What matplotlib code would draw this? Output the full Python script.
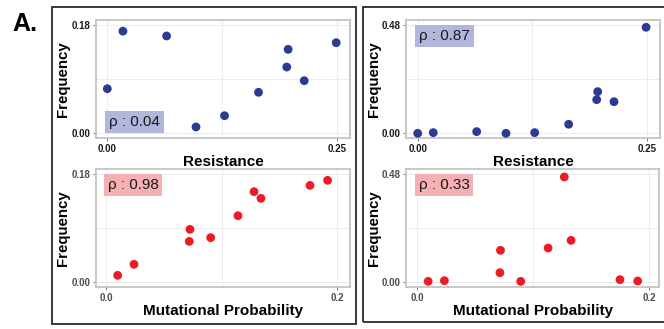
import matplotlib
matplotlib.use('Agg')
import matplotlib.pyplot as plt
from matplotlib.patches import Rectangle

plt.rcParams['font.family'] = ['Liberation Sans', 'DejaVu Sans']

# ---------------- data ----------------
res_x_a = [0.000, 0.017, 0.0645, 0.0965, 0.1275, 0.1645, 0.1967, 0.1952, 0.2142, 0.249]
res_freq_a = [0.0735, 0.169, 0.161, 0.010, 0.0287, 0.0675, 0.1388, 0.1095, 0.0868, 0.1498]

res_x_b = [0.000, 0.017, 0.0644, 0.0964, 0.1277, 0.1648, 0.1965, 0.1954, 0.2143, 0.2493]
res_freq_b = [0.000, 0.003, 0.0074, 0.000, 0.003, 0.040, 0.1846, 0.149, 0.140, 0.4697]

mut_x_a = [0.0101, 0.0242, 0.0720, 0.0726, 0.0905, 0.1141, 0.1280, 0.1340, 0.1764, 0.1916]
mut_freq_a = [0.0106, 0.029, 0.0674, 0.0875, 0.0736, 0.1103, 0.1505, 0.1393, 0.161, 0.1694]

mut_x_b = [0.0094, 0.0234, 0.0718, 0.0713, 0.0893, 0.1129, 0.1269, 0.1327, 0.1749, 0.1902]
mut_freq_b = [0.0015, 0.0045, 0.1397, 0.040, 0.0015, 0.150, 0.4666, 0.184, 0.0089, 0.003]

rho_labels = ["\u03c1 : 0.04", "\u03c1 : 0.87", "\u03c1 : 0.98", "\u03c1 : 0.33"]
x_tick_labels_res = ["0.00", "0.25"]
x_tick_labels_mut = ["0.0", "0.2"]

BLUE = '#2b3a93'
RED = '#ec1c26'
LAV = '#b2b5dc'
PINK = '#f5b0b3'

W, H = 664, 329
fig = plt.figure(figsize=(W / 100, H / 100), dpi=100)


def px_axes(l, t, r, b):
    return fig.add_axes([l / W, 1 - b / H, (r - l) / W, (b - t) / H])


panels = [
    dict(box=(96, 20, 350, 138), x=res_x_a, y=res_freq_a, xlim=(-0.0123, 0.2640), ylim=(-0.0083, 0.1875),
         xt=[0, 0.25], xtl=x_tick_labels_res, yt=[0, 0.18], ytl=["0.00", "0.18"], xl="Resistance",
         c=BLUE, bc=LAV, lab=rho_labels[0], pos='bottom', tc='#1a1a1a'),
    dict(box=(406.5, 20, 660, 138), x=res_x_b, y=res_freq_b, xlim=(-0.0122, 0.2645), ylim=(-0.0208, 0.502),
         xt=[0, 0.25], xtl=x_tick_labels_res, yt=[0, 0.48], ytl=["0.00", "0.48"], xl="Resistance",
         c=BLUE, bc=LAV, lab=rho_labels[1], pos='top', tc='#1a1a1a'),
    dict(box=(96.3, 169, 350, 287.3), x=mut_x_a, y=mut_freq_a, xlim=(-0.0084, 0.211), ylim=(-0.0094, 0.1884),
         xt=[0, 0.2], xtl=x_tick_labels_mut, yt=[0, 0.18], ytl=["0.00", "0.18"], xl="Mutational Probability",
         c=RED, bc=PINK, lab=rho_labels[2], pos='top', tc='#4d4d4d'),
    dict(box=(406.5, 169, 659, 287.3), x=mut_x_b, y=mut_freq_b, xlim=(-0.0093, 0.2086), ylim=(-0.025, 0.502),
         xt=[0, 0.2], xtl=x_tick_labels_mut, yt=[0, 0.48], ytl=["0.00", "0.48"], xl="Mutational Probability",
         c=RED, bc=PINK, lab=rho_labels[3], pos='top', tc='#4d4d4d'),
]

for p in panels:
    ax = px_axes(*p['box'])
    ax.set_xlim(*p['xlim'])
    ax.set_ylim(*p['ylim'])
    ax.set_xticks(p['xt'])
    ax.set_xticklabels(p['xtl'])
    ax.set_yticks(p['yt'])
    ax.set_yticklabels(p['ytl'])
    ax.set_xticks([sum(p['xt']) / 2], minor=True)
    ax.set_yticks([sum(p['yt']) / 2], minor=True)
    ax.grid(True, which='both', color='#ececec', linewidth=0.7)
    ax.set_axisbelow(True)
    for s in ax.spines.values():
        s.set_color('#c4c4c4')
        s.set_linewidth(1.3)
    ax.tick_params(which='major', length=2.5, width=0.7, color='#777777', pad=1.5,
                   labelsize=7, labelcolor=p['tc'])
    ax.tick_params(which='minor', length=0)
    for t in ax.get_xticklabels() + ax.get_yticklabels():
        t.set_fontweight('bold')
    ax.scatter(p['x'], p['y'], s=40, color=p['c'], edgecolors='none', zorder=3, clip_on=False)
    ax.set_xlabel(p['xl'], fontsize=11, fontweight='bold', labelpad=1.0, color='black')
    ax.set_ylabel("Frequency", fontsize=10.8, fontweight='bold', labelpad=1.0, color='black')
    pad = 0.25
    fs = 11
    if p['pos'] == 'bottom':
        ax.annotate(p['lab'], xy=(0, p['yt'][0]), xytext=(pad * fs * 0.4, pad * fs),
                    textcoords='offset points', ha='left', va='bottom', fontsize=fs, color='#1a1a1a',
                    bbox=dict(boxstyle='square,pad=%g' % pad, fc=p['bc'], ec='none'), zorder=4)
    else:
        ax.annotate(p['lab'], xy=(0, p['yt'][1]), xytext=(pad * fs * 0.4, -pad * fs),
                    textcoords='offset points', ha='left', va='top', fontsize=fs, color='#1a1a1a',
                    bbox=dict(boxstyle='square,pad=%g' % pad, fc=p['bc'], ec='none'), zorder=4)

# outer frames
for (l, t, r, b) in [(52, 7, 356, 324), (362.7, 7, 668, 322)]:
    fig.add_artist(Rectangle((l / W, 1 - b / H), (r - l) / W, (b - t) / H, transform=fig.transFigure,
                             fill=False, ec='#2a2a2a', lw=1.3, clip_on=False))

fig.text(12 / W, 1 - 24 / H, "A.", fontsize=18, fontweight='bold', ha='left', va='center')

fig.savefig('out.png', dpi=100)
